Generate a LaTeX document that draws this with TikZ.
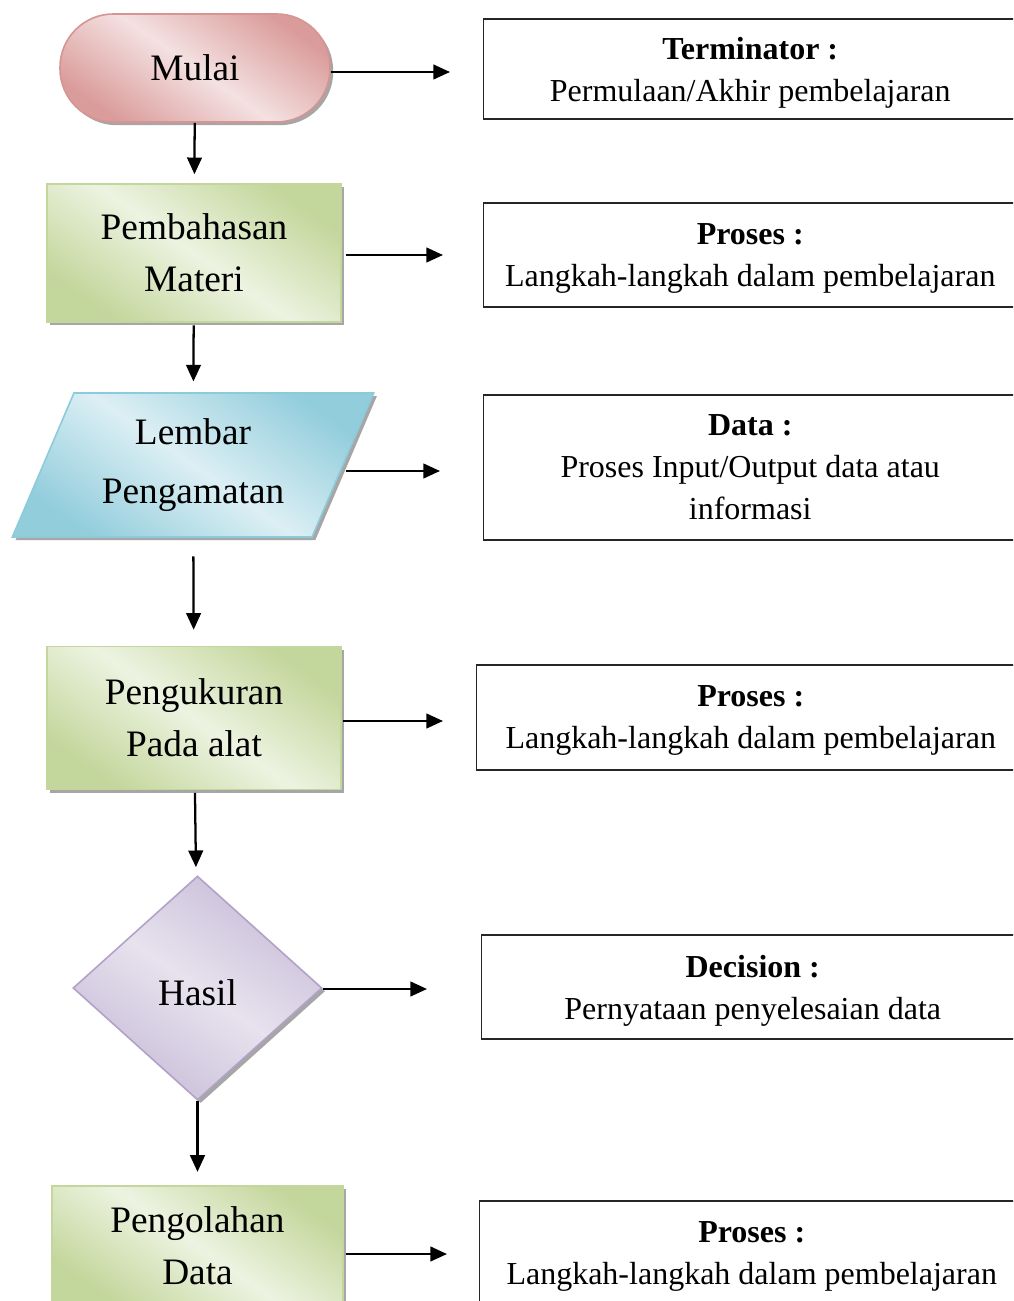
\documentclass[tikz,border=0pt]{standalone}
\usepackage{fontspec}
\setmainfont{Liberation Serif}
\usetikzlibrary{shapes.geometric,shadows,arrows.meta}

\definecolor{pinkL}{HTML}{F4E1E1}
\definecolor{pinkD}{HTML}{DA9C9B}
\definecolor{pinkB}{HTML}{D69593}
\definecolor{grnL}{HTML}{EDF3E1}
\definecolor{grnD}{HTML}{C3D69B}
\definecolor{grnB}{HTML}{C3D69B}
\definecolor{bluL}{HTML}{DCEFF4}
\definecolor{bluD}{HTML}{92CDDC}
\definecolor{bluB}{HTML}{8CCBDB}
\definecolor{purL}{HTML}{E7E2EE}
\definecolor{purD}{HTML}{C8BDD8}
\definecolor{purB}{HTML}{B3A2C7}

\tikzset{
  shapeshadow/.style={drop shadow={shadow xshift=2.4pt, shadow yshift=-2.4pt, fill=black, opacity=0.35}},
  flowtext/.style={font=\fontsize{28}{39}\selectfont, align=center, inner sep=0pt},
  termbox/.style={shape=rectangle, rounded corners=40pt, minimum width=202.5pt,
    minimum height=81pt, draw=pinkB, line width=1.2pt, shapeshadow,
    top color=pinkD, bottom color=pinkD, middle color=pinkL, shading angle=-35, flowtext},
  procbox/.style={shape=rectangle, minimum width=220.5pt, minimum height=103.5pt,
    draw=grnB, line width=1.2pt, shapeshadow,
    top color=grnD, bottom color=grnD, middle color=grnL, shading angle=-35, flowtext},
  databox/.style={shape=trapezium, trapezium left angle=63, trapezium right angle=117,
    trapezium stretches=true, minimum width=271.5pt, minimum height=108pt,
    draw=bluB, line width=1.2pt, shapeshadow,
    top color=bluD, bottom color=bluD, middle color=bluL, shading angle=-35, flowtext,
    font=\fontsize{28}{44}\selectfont},
  decbox/.style={shape=diamond, minimum width=186.75pt, minimum height=168pt,
    draw=purB, line width=1.2pt, shapeshadow,
    top color=purD, bottom color=purD, middle color=purL, shading angle=-35, flowtext},
  infobox/.style={shape=rectangle, draw=black!85, line width=1.1pt, anchor=west,
    font=\fontsize{24}{31.5}\selectfont, align=center, inner sep=0pt, text depth=0pt},
  arr/.style={-{Triangle[length=12.5pt,width=11pt]}, line width=1.7pt},
}

\begin{document}
\begin{tikzpicture}[x=0.75pt, y=-0.75pt]
  \clip (0,0) rectangle (1013,1301);
  \fill[white] (0,0) rectangle (1013,1301);

  % flowchart column
  \node[termbox] (mulai) at (195,68) {Mulai};
  \node[procbox] (pemb) at (194,253) {Pembahasan\\Materi};
  \node[databox] (lembar) at (193,465) {Lembar\\Pengamatan};
  \node[procbox, minimum height=107.25pt] (ukur) at (194,718) {Pengukuran\\Pada alat};
  \node[decbox, text depth=0pt, text height=26pt] (hasil) at (197.5,988) {Hasil};
  \node[procbox, minimum width=218.25pt, minimum height=90pt] (olah) at (197.5,1246) {Pengolahan\\Data};

  % legend boxes
  \node[infobox, minimum width=399.75pt, minimum height=75pt] (k1) at (483,69)
    {\textbf{Terminator :}\\Permulaan/Akhir pembelajaran};
  \node[infobox, minimum width=399.75pt, minimum height=78pt] (k2) at (483,255)
    {\textbf{Proses :}\\Langkah-langkah dalam pembelajaran};
  \node[infobox, minimum width=399.75pt, minimum height=108.75pt] (k3) at (483,467.5)
    {\textbf{Data :}\\Proses Input/Output data atau\\informasi};
  \node[infobox, minimum width=411pt, minimum height=78.75pt] (k4) at (476,717.5)
    {\textbf{Proses :}\\Langkah-langkah dalam pembelajaran};
  \node[infobox, minimum width=406.5pt, minimum height=78pt] (k5) at (481,987)
    {\textbf{Decision :}\\Pernyataan penyelesaian data};
  \node[infobox, minimum width=408pt, minimum height=78pt] (k6) at (479,1253)
    {\textbf{Proses :}\\Langkah-langkah dalam pembelajaran};

  % flow arrows
  \draw[arr, shorten >=6.75pt] (mulai) -- (pemb);
  \draw[arr, shorten <=2pt, shorten >=8pt] (pemb) -- (lembar);
  \draw[arr, shorten <=14pt, shorten >=12pt] (lembar) -- (ukur);
  \draw[arr, shorten <=2pt, shorten >=7pt] (ukur) -- (hasil);
  \draw[arr, shorten >=10pt] (hasil) -- (olah);

  % arrows towards the legend
  \coordinate (a1) at (450,72);
  \coordinate (a2) at (443,255);
  \coordinate (a3) at (440,471);
  \coordinate (a4) at (443,721);
  \coordinate (a5) at (427,989);
  \coordinate (a6) at (447,1254);
  \draw[arr] (mulai.east |- a1) -- (a1);
  \draw[arr, shorten <=3pt] (pemb.east |- a2) -- (a2);
  \draw[arr, shorten <=2pt] (lembar.east |- a3) -- (a3);
  \draw[arr, shorten <=1pt] (ukur.east |- a4) -- (a4);
  \draw[arr] (hasil.east |- a5) -- (a5);
  \draw[arr, shorten <=2pt] (olah.east |- a6) -- (a6);
\end{tikzpicture}
\end{document}
